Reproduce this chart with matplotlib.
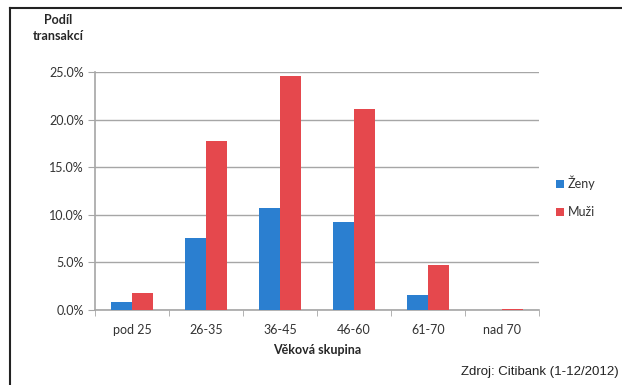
import matplotlib.pyplot as plt
import numpy as np
from matplotlib.ticker import PercentFormatter

plt.rcParams['font.family'] = ['Lato', 'DejaVu Sans']

categories = ['pod 25', '26-35', '36-45', '46-60', '61-70', 'nad 70']
zeny = [0.85, 7.6, 10.7, 9.2, 1.55, 0.02]
muzi = [1.8, 17.8, 24.6, 21.1, 4.75, 0.15]
yticks = [0, 5, 10, 15, 20, 25]

blue = '#2b7fd0'
red = '#e5484d'
grid = '#a6a6a6'
txt = '#333333'

fig = plt.figure(figsize=(6.22, 3.85), dpi=100)
ax = fig.add_axes([95 / 622, 1 - 310 / 385, 444 / 622, 238 / 385])

x = np.arange(len(categories))
w = 0.285
ax.bar(x - w / 2, zeny, w, color=blue, label='Ženy', zorder=3)
ax.bar(x + w / 2, muzi, w, color=red, label='Muži', zorder=3)

ax.set_xlim(-0.5, len(categories) - 0.5)
ax.set_ylim(0, 25)
ax.set_yticks(yticks)
ax.yaxis.set_major_formatter(PercentFormatter(decimals=1))
ax.set_xticks(x)
ax.set_xticklabels(categories)
ax.set_xticks(np.arange(-0.5, len(categories)), minor=True)
ax.tick_params(axis='x', which='major', length=0, pad=10, labelsize=9, labelcolor=txt)
ax.tick_params(axis='x', which='minor', length=4, color=grid, direction='out')
ax.tick_params(axis='y', length=5, color=grid, pad=3, labelsize=9, labelcolor=txt)

ax.grid(axis='y', color=grid, lw=1, zorder=0)
for s in ['top', 'right']:
    ax.spines[s].set_visible(False)
ax.spines['left'].set_color(grid)
ax.spines['bottom'].set_color(grid)
ax.spines['left'].set_linewidth(1.2)
ax.spines['bottom'].set_linewidth(1.2)

ax.set_xlabel('Věková skupina', fontsize=9, fontweight='bold', color='#262626', labelpad=6)
fig.text(58 / 622, 1 - 28 / 385, 'Podíl\ntransakcí', ha='center', va='center',
         fontsize=9, fontweight='bold', color='#262626', linespacing=1.5)

fig.legend(loc='center left', bbox_to_anchor=(545 / 622, 1 - 197 / 385), frameon=False,
           fontsize=9, handlelength=0.6, handleheight=0.6, handletextpad=0.3,
           labelspacing=1.3, labelcolor=txt)

fig.text(619 / 622, 1 - 372 / 385, 'Zdroj: Citibank (1-12/2012)', ha='right', va='center',
         fontsize=9.5, family='Liberation Sans', color='#222222')

# frame around the chart (top and left edges visible)
fig.add_artist(plt.Line2D([10 / 622, 10 / 622], [0, 1 - 8 / 385], transform=fig.transFigure,
                          color='#222222', lw=1.5))
fig.add_artist(plt.Line2D([10 / 622, 1], [1 - 8 / 385, 1 - 8 / 385], transform=fig.transFigure,
                          color='#222222', lw=1.5))

fig.savefig('out.png', dpi=100)
